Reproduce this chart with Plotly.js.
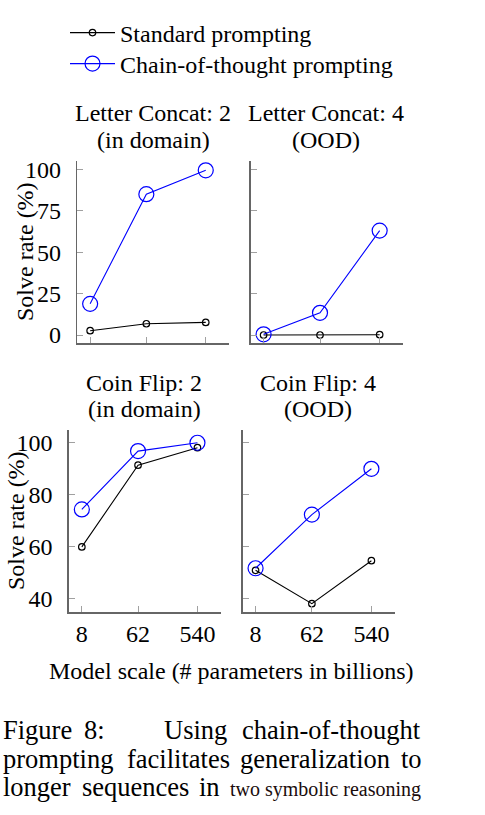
<!DOCTYPE html>
<html>
<head>
<meta charset="utf-8">
<script src="https://cdn.plot.ly/plotly-3.0.1.min.js"></script>
<style>
  html, body { margin: 0; padding: 0; background: #fff; }
  #chart { width: 485px; height: 815px; }
</style>
</head>
<body>
<div id="chart"></div>
<script>
// model sizes (billions of params), shared by every panel
const modelSizes = [8, 62, 540];
const sizeLabels = ["8", "62", "540"];

// Letter Concat: 2 (in domain)
const concat2Standard = [2.6, 6.8, 7.6];
const concat2Cot = [18.8, 85.0, 99.4];
// Letter Concat: 4 (OOD)
const concat4Standard = [0.0, 0.0, 0.2];
const concat4Cot = [0.4, 13.4, 63.0];
// Coin Flip: 2 (in domain)
const coin2Standard = [60.0, 91.4, 98.1];
const coin2Cot = [74.4, 96.8, 100.0];
// Coin Flip: 4 (OOD)
const coin4Standard = [51.0, 38.2, 54.7];
const coin4Cot = [51.8, 72.4, 90.0];

const concatTicks = [0, 25, 50, 75, 100];
const coinTicks = [40, 60, 80, 100];

const W = 485, H = 815;
const SERIF = "'Liberation Serif', 'Times New Roman', serif";
const BLUE = "#0000ff";
const FS = 24;

// pixel helpers -> paper coords
function px(x) { return x / W; }
function py(y) { return 1 - y / H; }

function stdTrace(y, xa, ya, legend) {
    return {
        name: "Standard prompting",
        x: modelSizes, y: y, xaxis: xa, yaxis: ya,
        mode: "lines+markers",
        line: { color: "#000", width: 1.1 },
        marker: { symbol: "circle-open", size: 6.5, color: "#000", line: { width: 1.2 } },
        showlegend: legend,
        legend: "legend",
        cliponaxis: false,
    };
}

function cotTrace(y, xa, ya, legend) {
    return {
        name: "Chain-of-thought prompting",
        x: modelSizes, y: y, xaxis: xa, yaxis: ya,
        mode: "lines+markers",
        line: { color: BLUE, width: 1.1 },
        marker: { symbol: "circle-open", size: 15, color: BLUE, line: { width: 1.2 } },
        showlegend: legend,
        legend: "legend2",
        cliponaxis: false,
    };
}

var data = [
    stdTrace(concat2Standard, "x", "y", true),
    cotTrace(concat2Cot, "x", "y", true),
    stdTrace(concat4Standard, "x2", "y2", false),
    cotTrace(concat4Cot, "x2", "y2", false),
    stdTrace(coin2Standard, "x3", "y3", false),
    cotTrace(coin2Cot, "x3", "y3", false),
    stdTrace(coin4Standard, "x4", "y4", false),
    cotTrace(coin4Cot, "x4", "y4", false),
];

function xAxis(left, right, labels) {
    return {
        domain: [px(left), px(right)],
        type: "log",
        range: [0.70, 3.105],
        tickvals: modelSizes,
        ticktext: sizeLabels,
        showticklabels: labels,
        ticks: "inside", ticklen: 6, tickwidth: 1, tickcolor: "#a0a0a0",
        showline: true, linecolor: "#666", linewidth: 1.6,
        showgrid: false, zeroline: false,
        tickfont: { family: SERIF, size: FS, color: "#000" },
        ticklabelstandoff: 0,
        fixedrange: true,
    };
}

function yAxis(top, bottom, range, ticks, labels, anchor) {
    return {
        domain: [py(bottom), py(top)],
        anchor: anchor,
        range: range,
        tickvals: ticks,
        showticklabels: labels,
        ticks: "inside", ticklen: 6, tickwidth: 1, tickcolor: "#a0a0a0",
        showline: true, linecolor: "#666", linewidth: 1.6,
        showgrid: false, zeroline: false,
        tickfont: { family: SERIF, size: FS, color: "#000" },
        ticklabelstandoff: 10,
        fixedrange: true,
    };
}

function label(text, x, y, opts) {
    return Object.assign({
        text: text, x: px(x), y: py(y), xref: "paper", yref: "paper",
        showarrow: false, xanchor: "center", yanchor: "middle",
        font: { family: SERIF, size: FS, color: "#000" },
    }, opts || {});
}

function legendBox(y) {
    return {
        x: px(65), y: py(y), xanchor: "left", yanchor: "middle",
        font: { family: SERIF, size: FS, color: "#000" },
        bgcolor: "rgba(0,0,0,0)", borderwidth: 0,
        itemwidth: 45,
    };
}

var annotations = [
    // panel titles
    label("Letter Concat: 2", 153, 113),
    label("(in domain)", 153, 140),
    label("Letter Concat: 4", 326, 113),
    label("(OOD)", 326, 140),
    label("Coin Flip: 2", 144, 383),
    label("(in domain)", 144, 409),
    label("Coin Flip: 4", 318, 383),
    label("(OOD)", 318, 409),
    // axis titles
    label("Solve rate (%)", 25, 252, { textangle: -90 }),
    label("Solve rate (%)", 16, 521, { textangle: -90 }),
    label("Model scale (# parameters in billions)", 231, 671),
];

// caption under the figure, placed word by word to keep the justified look
const captionWords = [
    ["Figure", 1, 730], ["8:", 82, 730], ["Using", 162, 730], ["chain-of-thought", 240, 730],
    ["prompting", 1, 759], ["facilitates", 125, 759], ["generalization", 238, 759], ["to", 399, 759],
    ["longer", 1, 787], ["sequences", 80, 787], ["in", 197, 787],
];
captionWords.forEach(function (w) {
    annotations.push(label(w[0], w[1], w[2], {
        xanchor: "left", font: { family: SERIF, size: 26.5, color: "#000" },
    }));
});
annotations.push(label("two symbolic reasoning", 228, 789, {
    xanchor: "left", font: { family: SERIF, size: 20, color: "#1a0c0c" },
}));

var layout = {
    width: W, height: H,
    margin: { l: 0, r: 0, t: 0, b: 0 },
    paper_bgcolor: "#fff", plot_bgcolor: "#fff",
    showlegend: true,
    legend: legendBox(33),
    legend2: legendBox(64),
    xaxis: xAxis(77.3, 229.3, false),
    yaxis: yAxis(160.7, 343.3, [-5, 105.2], concatTicks, true, "x"),
    xaxis2: xAxis(250.7, 403.3, false),
    yaxis2: yAxis(160.7, 343.3, [-5, 105.2], concatTicks, false, "x2"),
    xaxis3: xAxis(69, 221, true),
    yaxis3: yAxis(430, 612, [35, 104.9], coinTicks, true, "x3"),
    xaxis4: xAxis(242.7, 395, true),
    yaxis4: yAxis(430, 612, [35, 104.9], coinTicks, false, "x4"),
    annotations: annotations,
};
layout.xaxis.anchor = "y";
layout.xaxis2.anchor = "y2";
layout.xaxis3.anchor = "y3";
layout.xaxis4.anchor = "y4";

Plotly.newPlot("chart", data, layout, { displayModeBar: false, staticPlot: true });
</script>
</body>
</html>
